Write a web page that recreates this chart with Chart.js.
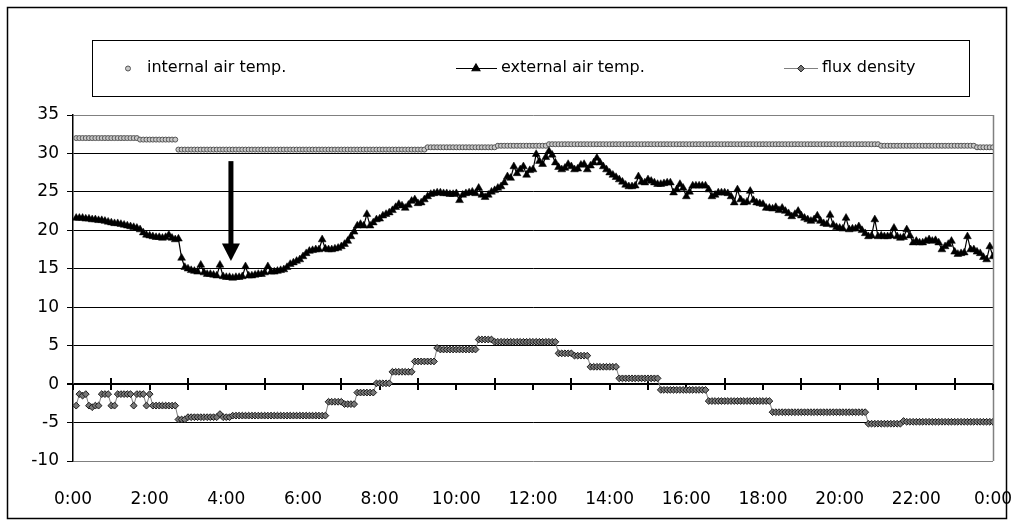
<!DOCTYPE html>
<html>
<head>
<meta charset="utf-8">
<script src="https://cdn.jsdelivr.net/npm/chart.js@4.4.1/dist/chart.umd.min.js"></script>
<style>
  html, body { margin: 0; padding: 0; background: #fff; }
  #wrap { width: 1014px; height: 524px; position: relative; }
</style>
</head>
<body>
<div id="wrap"><canvas id="chart"></canvas></div>
<script>
// one reading every 5 minutes, 0:05 .. 24:00 (hours)
const times = Array.from({ length: 288 }, (_, k) => (k + 1) / 12);

const hourTicks = [0, 2, 4, 6, 8, 10, 12, 14, 16, 18, 20, 22, 24];
const hourLabels = ['0:00', '2:00', '4:00', '6:00', '8:00', '10:00', '12:00',
  '14:00', '16:00', '18:00', '20:00', '22:00', '0:00'];

const seriesNames = ['internal air temp.', 'external air temp.', 'flux density'];

// one row per hour (12 readings)
const internalTemp = [
  32.0, 32.0, 32.0, 32.0, 32.0, 32.0, 32.0, 32.0, 32.0, 32.0, 32.0, 32.0,
  32.0, 32.0, 32.0, 32.0, 32.0, 32.0, 32.0, 32.0, 31.8, 31.8, 31.8, 31.8,
  31.8, 31.8, 31.8, 31.8, 31.8, 31.8, 31.8, 31.8, 30.5, 30.5, 30.5, 30.5,
  30.5, 30.5, 30.5, 30.5, 30.5, 30.5, 30.5, 30.5, 30.5, 30.5, 30.5, 30.5,
  30.5, 30.5, 30.5, 30.5, 30.5, 30.5, 30.5, 30.5, 30.5, 30.5, 30.5, 30.5,
  30.5, 30.5, 30.5, 30.5, 30.5, 30.5, 30.5, 30.5, 30.5, 30.5, 30.5, 30.5,
  30.5, 30.5, 30.5, 30.5, 30.5, 30.5, 30.5, 30.5, 30.5, 30.5, 30.5, 30.5,
  30.5, 30.5, 30.5, 30.5, 30.5, 30.5, 30.5, 30.5, 30.5, 30.5, 30.5, 30.5,
  30.5, 30.5, 30.5, 30.5, 30.5, 30.5, 30.5, 30.5, 30.5, 30.5, 30.5, 30.5,
  30.5, 30.5, 30.8, 30.8, 30.8, 30.8, 30.8, 30.8, 30.8, 30.8, 30.8, 30.8,
  30.8, 30.8, 30.8, 30.8, 30.8, 30.8, 30.8, 30.8, 30.8, 30.8, 30.8, 30.8,
  31.0, 31.0, 31.0, 31.0, 31.0, 31.0, 31.0, 31.0, 31.0, 31.0, 31.0, 31.0,
  31.0, 31.0, 31.0, 31.0, 31.2, 31.2, 31.2, 31.2, 31.2, 31.2, 31.2, 31.2,
  31.2, 31.2, 31.2, 31.2, 31.2, 31.2, 31.2, 31.2, 31.2, 31.2, 31.2, 31.2,
  31.2, 31.2, 31.2, 31.2, 31.2, 31.2, 31.2, 31.2, 31.2, 31.2, 31.2, 31.2,
  31.2, 31.2, 31.2, 31.2, 31.2, 31.2, 31.2, 31.2, 31.2, 31.2, 31.2, 31.2,
  31.2, 31.2, 31.2, 31.2, 31.2, 31.2, 31.2, 31.2, 31.2, 31.2, 31.2, 31.2,
  31.2, 31.2, 31.2, 31.2, 31.2, 31.2, 31.2, 31.2, 31.2, 31.2, 31.2, 31.2,
  31.2, 31.2, 31.2, 31.2, 31.2, 31.2, 31.2, 31.2, 31.2, 31.2, 31.2, 31.2,
  31.2, 31.2, 31.2, 31.2, 31.2, 31.2, 31.2, 31.2, 31.2, 31.2, 31.2, 31.2,
  31.2, 31.2, 31.2, 31.2, 31.2, 31.2, 31.2, 31.2, 31.2, 31.2, 31.2, 31.2,
  31.0, 31.0, 31.0, 31.0, 31.0, 31.0, 31.0, 31.0, 31.0, 31.0, 31.0, 31.0,
  31.0, 31.0, 31.0, 31.0, 31.0, 31.0, 31.0, 31.0, 31.0, 31.0, 31.0, 31.0,
  31.0, 31.0, 31.0, 31.0, 31.0, 31.0, 30.8, 30.8, 30.8, 30.8, 30.8, 30.8
];

const externalTemp = [
  21.6, 21.6, 21.6, 21.5, 21.5, 21.4, 21.4, 21.3, 21.3, 21.2, 21.1, 21.0,
  20.9, 20.9, 20.8, 20.7, 20.6, 20.5, 20.4, 20.3, 20.1, 19.7, 19.4, 19.3,
  19.2, 19.1, 19.1, 19.0, 19.1, 19.4, 19.0, 18.8, 18.9, 16.4, 15.2, 15.0,
  14.8, 14.7, 14.6, 15.5, 14.5, 14.3, 14.3, 14.2, 14.1, 15.5, 14.0, 13.9,
  13.9, 13.8, 13.9, 13.9, 14.0, 15.3, 14.1, 14.1, 14.2, 14.3, 14.3, 14.5,
  15.3, 14.6, 14.6, 14.7, 14.8, 14.9, 15.2, 15.6, 15.8, 16.0, 16.2, 16.6,
  17.0, 17.3, 17.4, 17.5, 17.5, 18.8, 17.6, 17.5, 17.5, 17.6, 17.7, 17.9,
  18.2, 18.6, 19.2, 19.8, 20.6, 20.8, 20.6, 22.1, 20.6, 21.0, 21.4, 21.5,
  21.9, 22.1, 22.3, 22.6, 23.0, 23.4, 23.2, 22.9, 23.3, 23.8, 24.0, 23.5,
  23.6, 24.0, 24.4, 24.7, 24.8, 24.9, 24.9, 24.8, 24.8, 24.7, 24.7, 24.8,
  23.9, 24.6, 24.8, 24.9, 25.0, 24.8, 25.5, 24.6, 24.3, 24.6, 25.0, 25.2,
  25.5, 25.7, 26.2, 27.0, 26.8, 28.3, 27.4, 27.9, 28.3, 27.2, 27.8, 27.9,
  29.9, 29.0, 28.6, 29.5, 30.3, 29.8, 28.8, 28.2, 27.9, 28.1, 28.6, 28.3,
  27.9, 28.0, 28.5, 28.6, 27.9, 28.4, 28.8, 29.4, 28.8, 28.3, 27.9, 27.5,
  27.2, 26.9, 26.6, 26.3, 25.9, 25.7, 25.7, 25.8, 27.0, 26.3, 26.2, 26.6,
  26.4, 26.2, 26.0, 26.0, 26.1, 26.2, 26.2, 24.9, 25.3, 26.0, 25.5, 24.4,
  25.0, 25.8, 25.8, 25.8, 25.8, 25.8, 25.3, 24.4, 24.6, 24.9, 24.9, 24.9,
  24.8, 24.4, 23.6, 25.3, 24.0, 23.6, 23.7, 25.1, 23.9, 23.6, 23.5, 23.4,
  22.9, 22.9, 22.8, 23.0, 22.6, 22.9, 22.5, 22.2, 21.8, 22.1, 22.5, 21.9,
  21.6, 21.4, 21.2, 21.4, 21.9, 21.2, 20.9, 20.8, 22.0, 20.7, 20.4, 20.3,
  20.2, 21.6, 20.1, 20.2, 20.2, 20.5, 20.0, 19.6, 19.2, 19.3, 21.4, 19.2,
  19.3, 19.2, 19.2, 19.3, 20.3, 19.2, 19.0, 19.1, 20.1, 19.3, 18.4, 18.6,
  18.4, 18.4, 18.6, 18.8, 18.6, 18.7, 18.4, 17.5, 17.9, 18.2, 18.6, 17.2,
  16.9, 17.0, 17.1, 19.2, 17.5, 17.5, 17.2, 17.0, 16.5, 16.2, 17.9, 16.6
];

const fluxDensity = [
  -2.8, -1.3, -1.5, -1.3, -2.8, -3.0, -2.8, -2.8, -1.3, -1.3, -1.3, -2.8,
  -2.8, -1.3, -1.3, -1.3, -1.3, -1.3, -2.8, -1.3, -1.3, -1.3, -2.8, -1.3,
  -2.8, -2.8, -2.8, -2.8, -2.8, -2.8, -2.8, -2.8, -4.6, -4.6, -4.6, -4.3,
  -4.3, -4.3, -4.3, -4.3, -4.3, -4.3, -4.3, -4.3, -4.3, -3.9, -4.3, -4.3,
  -4.3, -4.1, -4.1, -4.1, -4.1, -4.1, -4.1, -4.1, -4.1, -4.1, -4.1, -4.1,
  -4.1, -4.1, -4.1, -4.1, -4.1, -4.1, -4.1, -4.1, -4.1, -4.1, -4.1, -4.1,
  -4.1, -4.1, -4.1, -4.1, -4.1, -4.1, -4.1, -2.3, -2.3, -2.3, -2.3, -2.3,
  -2.6, -2.6, -2.6, -2.6, -1.1, -1.1, -1.1, -1.1, -1.1, -1.1, 0.1, 0.1,
  0.1, 0.1, 0.1, 1.6, 1.6, 1.6, 1.6, 1.6, 1.6, 1.6, 2.95, 2.95,
  2.95, 2.95, 2.95, 2.95, 2.95, 4.7, 4.5, 4.5, 4.5, 4.5, 4.5, 4.5,
  4.5, 4.5, 4.5, 4.5, 4.5, 4.5, 5.8, 5.8, 5.8, 5.8, 5.8, 5.5,
  5.5, 5.5, 5.5, 5.5, 5.5, 5.5, 5.5, 5.5, 5.5, 5.5, 5.5, 5.5,
  5.5, 5.5, 5.5, 5.5, 5.5, 5.5, 5.5, 4.0, 4.0, 4.0, 4.0, 4.0,
  3.7, 3.7, 3.7, 3.7, 3.7, 2.25, 2.25, 2.25, 2.25, 2.25, 2.25, 2.25,
  2.25, 2.25, 0.75, 0.75, 0.75, 0.75, 0.75, 0.75, 0.75, 0.75, 0.75, 0.75,
  0.75, 0.75, 0.75, -0.75, -0.75, -0.75, -0.75, -0.75, -0.75, -0.75, -0.75, -0.75,
  -0.75, -0.75, -0.75, -0.75, -0.75, -0.75, -2.2, -2.2, -2.2, -2.2, -2.2, -2.2,
  -2.2, -2.2, -2.2, -2.2, -2.2, -2.2, -2.2, -2.2, -2.2, -2.2, -2.2, -2.2,
  -2.2, -2.2, -3.65, -3.65, -3.65, -3.65, -3.65, -3.65, -3.65, -3.65, -3.65, -3.65,
  -3.65, -3.65, -3.65, -3.65, -3.65, -3.65, -3.65, -3.65, -3.65, -3.65, -3.65, -3.65,
  -3.65, -3.65, -3.65, -3.65, -3.65, -3.65, -3.65, -3.65, -5.15, -5.15, -5.15, -5.15,
  -5.15, -5.15, -5.15, -5.15, -5.15, -5.15, -5.15, -4.8, -4.9, -4.9, -4.9, -4.9,
  -4.9, -4.9, -4.9, -4.9, -4.9, -4.9, -4.9, -4.9, -4.9, -4.9, -4.9, -4.9,
  -4.9, -4.9, -4.9, -4.9, -4.9, -4.9, -4.9, -4.9, -4.9, -4.9, -4.9, -4.9
];

// arrow pointing at the night minimum
const arrowMark = { hour: 4.12, from: 29.0, headBase: 18.3, to: 16.0 };

const FONT = "'DejaVu Sans', sans-serif";

function points(values) {
  return times.map((t, i) => ({ x: t, y: values[i] }));
}

const decorations = {
  id: 'decorations',
  beforeDraw(chart) {
    const { ctx, width, height } = chart;
    ctx.save();
    ctx.fillStyle = '#fff';
    ctx.fillRect(0, 0, width, height);
    ctx.restore();
  },
  beforeDatasetsDraw(chart) {
    const { ctx, chartArea: a, scales: { x, y } } = chart;
    ctx.save();
    // right edge of plot area
    ctx.strokeStyle = '#808080';
    ctx.lineWidth = 1.5;
    ctx.beginPath();
    ctx.moveTo(Math.round(a.right) + 0.5, a.top);
    ctx.lineTo(Math.round(a.right) + 0.5, a.bottom);
    ctx.stroke();
    // hour tick marks on the zero line
    const y0 = Math.round(y.getPixelForValue(0));
    ctx.strokeStyle = '#000';
    ctx.lineWidth = 2;
    for (let h = 0; h <= 24; h++) {
      const px = Math.round(x.getPixelForValue(h));
      ctx.beginPath();
      ctx.moveTo(px, h % 2 ? y0 - 6 : y0);
      ctx.lineTo(px, y0 + 6);
      ctx.stroke();
    }
    ctx.restore();
  },
  afterDatasetsDraw(chart) {
    const { ctx, scales: { x, y } } = chart;
    const ax = x.getPixelForValue(arrowMark.hour);
    const top = y.getPixelForValue(arrowMark.from);
    const base = y.getPixelForValue(arrowMark.headBase);
    const tip = y.getPixelForValue(arrowMark.to);
    ctx.save();
    ctx.fillStyle = '#000';
    ctx.fillRect(ax - 2.5, top, 5, base - top + 1);
    ctx.beginPath();
    ctx.moveTo(ax - 9, base);
    ctx.lineTo(ax + 9, base);
    ctx.lineTo(ax, tip);
    ctx.closePath();
    ctx.fill();
    ctx.restore();
  },
  afterDraw(chart) {
    const { ctx } = chart;
    ctx.save();
    // outer frame
    ctx.strokeStyle = '#000';
    ctx.lineWidth = 1.5;
    ctx.strokeRect(7.5, 7.5, 999, 511);
    // legend box
    ctx.lineWidth = 1;
    ctx.strokeRect(92.5, 40.5, 877, 56);

    const ly = 68;
    const entries = [
      { marker: 128, line: null, text: 147 },
      { marker: 476, line: [456, 497], text: 501 },
      { marker: 801, line: [784, 818], text: 822 }
    ];
    chart.data.datasets.forEach((ds, i) => {
      const e = entries[i];
      if (e.line) {
        ctx.strokeStyle = ds.borderColor;
        ctx.lineWidth = ds.borderWidth;
        ctx.beginPath();
        ctx.moveTo(e.line[0], ly + 0.5);
        ctx.lineTo(e.line[1], ly + 0.5);
        ctx.stroke();
      }
      ctx.fillStyle = ds.pointBackgroundColor;
      ctx.strokeStyle = ds.pointBorderColor;
      Chart.helpers.drawPoint(ctx, {
        pointStyle: ds.pointStyle,
        radius: ds.pointRadius,
        rotation: 0,
        borderWidth: ds.pointBorderWidth
      }, e.marker, ly + 0.5);
      ctx.fillStyle = '#000';
      ctx.font = '16px ' + FONT;
      ctx.textBaseline = 'middle';
      ctx.textAlign = 'left';
      ctx.fillText(ds.label, e.text, ly);
    });
    ctx.restore();
  }
};

document.addEventListener('DOMContentLoaded', () => {
  const ctx = document.getElementById('chart').getContext('2d');
  new Chart(ctx, {
    type: 'line',
    data: {
      datasets: [{
        label: seriesNames[0],
        data: points(internalTemp),
        showLine: false,
        pointStyle: 'circle',
        pointRadius: 2.5,
        pointBackgroundColor: '#c8c8c8',
        pointBorderColor: '#555555',
        pointBorderWidth: 1,
        borderColor: '#555555',
        borderWidth: 1
      }, {
        label: seriesNames[1],
        data: points(externalTemp),
        borderColor: '#000000',
        borderWidth: 1.2,
        pointStyle: 'triangle',
        pointRadius: 4.5,
        pointBackgroundColor: '#000000',
        pointBorderColor: '#000000',
        pointBorderWidth: 0.5,
        tension: 0
      }, {
        label: seriesNames[2],
        data: points(fluxDensity),
        borderColor: '#808080',
        borderWidth: 1,
        pointStyle: 'rectRot',
        pointRadius: 3.4,
        pointBackgroundColor: '#777777',
        pointBorderColor: '#1a1a1a',
        pointBorderWidth: 1,
        tension: 0
      }]
    },
    options: {
      responsive: true,
      maintainAspectRatio: false,
      animation: false,
      layout: { padding: { top: 115, right: 21, bottom: 0, left: 0 } },
      plugins: {
        legend: { display: false },
        tooltip: { enabled: false }
      },
      scales: {
        x: {
          type: 'linear',
          min: 0,
          max: 24,
          afterBuildTicks: (scale) => {
            scale.ticks = hourTicks.map((v) => ({ value: v }));
          },
          afterFit: (scale) => {
            scale.height = 63;
            scale.paddingLeft = 0;
            scale.paddingRight = 0;
          },
          ticks: {
            autoSkip: false,
            maxRotation: 0,
            padding: 20,
            color: '#000',
            font: { family: FONT, size: 17 },
            callback: (value) => hourLabels[hourTicks.indexOf(value)]
          },
          grid: { display: false },
          border: { display: false }
        },
        y: {
          min: -10,
          max: 35,
          afterFit: (scale) => { scale.width = 73; },
          ticks: {
            stepSize: 5,
            padding: 8,
            color: '#000',
            font: { family: FONT, size: 17 }
          },
          grid: {
            color: (c) => (c.tick.value === 35 || c.tick.value === -10) ? '#808080' : '#000',
            lineWidth: (c) => c.tick.value === 0 ? 2 : 1,
            tickColor: '#000',
            tickLength: 6
          },
          border: { color: '#000', width: 1.5 }
        }
      }
    },
    plugins: [decorations]
  });
});
</script>
</body>
</html>
